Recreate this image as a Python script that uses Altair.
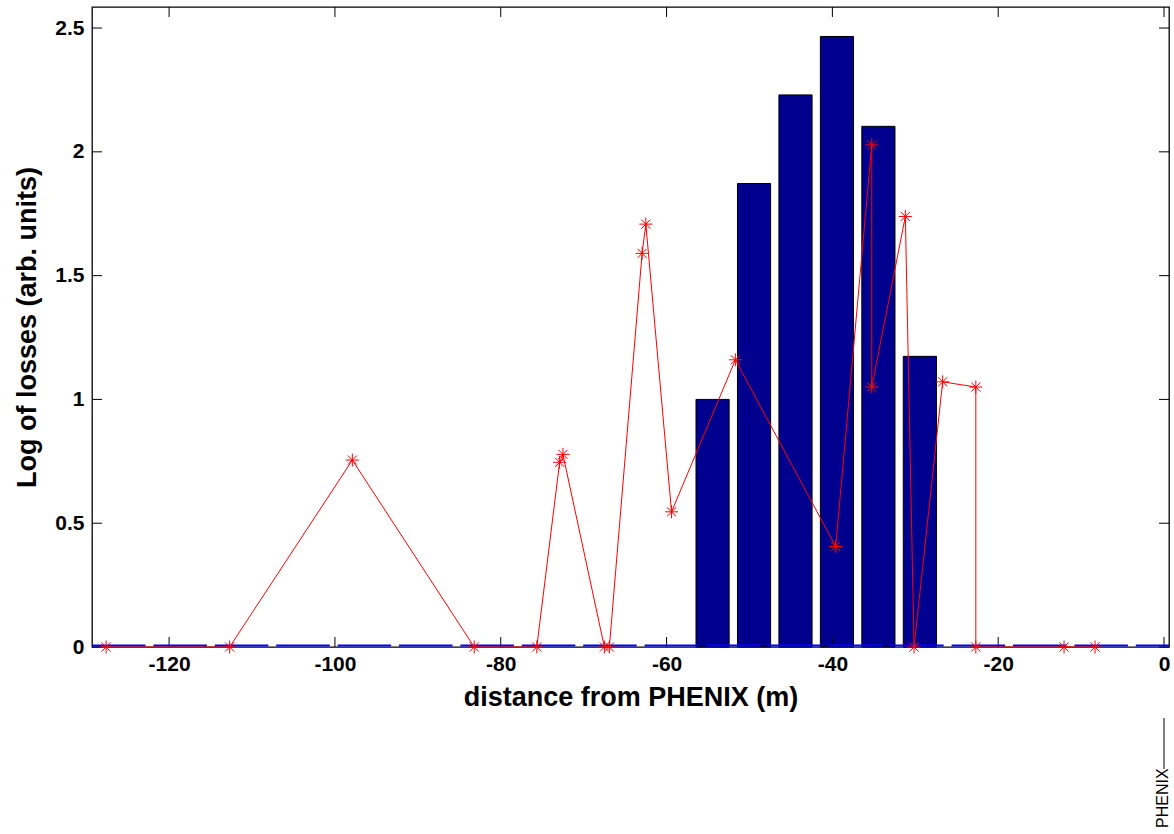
import altair as alt
import pandas as pd

# ---- data ----
bar_centers = [-54.45, -49.45, -44.45, -39.45, -34.45, -29.45]
bar_values = [1.0, 1.872, 2.23, 2.466, 2.103, 1.174]

loss_x = [-127.6, -112.7, -97.9, -83.2, -75.65, -72.9, -72.5, -67.5, -66.9,
          -62.95, -62.5, -59.4, -51.7, -39.6, -35.25, -35.25, -31.2, -30.15,
          -26.7, -22.7, -22.7, -12.06, -8.32]
loss_y = [0, 0, 0.755, 0, 0, 0.746, 0.778, 0, 0,
          1.59, 1.708, 0.546, 1.16, 0.406, 2.028, 1.05, 1.739, 0,
          1.071, 1.05, 0, 0, 0]

x_ticks = [-120, -100, -80, -60, -40, -20, 0]
y_ticks = [0, 0.5, 1, 1.5, 2, 2.5]

W, H = 1077, 640
FONT = "Liberation Sans"

xs = alt.Scale(domain=[-129.3, 0.6], nice=False, zero=False)
ys = alt.Scale(domain=[0, 2.585], nice=False, zero=False)

x_axis = alt.Axis(values=x_ticks, labelExpr="toString(datum.value)", title="distance from PHENIX (m)",
                  titleFont=FONT, titleFontSize=27, titleFontWeight="bold", titleColor="black",
                  titleBaseline="middle", titleY=50,
                  labelFont=FONT, labelFontSize=21, labelFontWeight="bold", labelColor="black",
                  labelPadding=6, labelFlush=False, labelOverlap=False,
                  ticks=False, domain=False, grid=False)
y_axis = alt.Axis(values=y_ticks, labelExpr="toString(datum.value)", title="Log of losses (arb. units)",
                  titleFont=FONT, titleFontSize=27, titleFontWeight="bold", titleColor="black",
                  titleBaseline="middle", titleX=-65, titleY=320, titleAngle=270,
                  labelFont=FONT, labelFontSize=21, labelFontWeight="bold", labelColor="black",
                  labelPadding=8, labelFlush=False, labelOverlap=False,
                  ticks=False, domain=False, grid=False)

bars_df = pd.DataFrame({"c": bar_centers, "v": bar_values})
bars = alt.Chart(bars_df).transform_calculate(
    xa="datum.c - 2", xb="datum.c + 2"
).mark_rect(color="#00008F", stroke="black", strokeWidth=1).encode(
    x=alt.X("xa:Q", scale=xs, axis=x_axis),
    x2="xb:Q",
    y=alt.Y("v:Q", scale=ys, axis=y_axis),
    y2=alt.datum(0),
)

base_line = alt.Chart(pd.DataFrame({"z": [0]})).mark_rule(
    color="#0000FF", strokeWidth=2, strokeDash=[53.5, 7.9], yOffset=-1.5
).encode(
    y=alt.Y("z:Q", scale=ys, axis=y_axis),
    x=alt.value(0), x2=alt.value(W),
)

loss_df = pd.DataFrame({"i": list(range(len(loss_x))), "x": loss_x, "y": loss_y})
loss_line = alt.Chart(loss_df).mark_line(color="#FF0000", strokeWidth=1).encode(
    x=alt.X("x:Q", scale=xs, axis=x_axis),
    y=alt.Y("y:Q", scale=ys, axis=y_axis),
    order="i:Q",
)
ASTER = "M-1,0L1,0M0,-1L0,1M-0.7,-0.7L0.7,0.7M-0.7,0.7L0.7,-0.7"
loss_pts = alt.Chart(loss_df).mark_point(
    shape=ASTER, filled=False, stroke="#FF0000", strokeWidth=1, size=170, opacity=1
).encode(
    x=alt.X("x:Q", scale=xs, axis=x_axis),
    y=alt.Y("y:Q", scale=ys, axis=y_axis),
)

xt_df = pd.DataFrame({"t": x_ticks})
yt_df = pd.DataFrame({"t": y_ticks})
xt_bot = alt.Chart(xt_df).mark_rule(color="black", strokeWidth=1).encode(
    x=alt.X("t:Q", scale=xs, axis=x_axis), y=alt.value(H), y2=alt.value(H - 10))
xt_top = alt.Chart(xt_df).mark_rule(color="black", strokeWidth=1).encode(
    x=alt.X("t:Q", scale=xs, axis=x_axis), y=alt.value(0), y2=alt.value(10))
yt_left = alt.Chart(yt_df).mark_rule(color="black", strokeWidth=1).encode(
    y=alt.Y("t:Q", scale=ys, axis=y_axis), x=alt.value(0), x2=alt.value(10))
yt_right = alt.Chart(yt_df).mark_rule(color="black", strokeWidth=1).encode(
    y=alt.Y("t:Q", scale=ys, axis=y_axis), x=alt.value(W), x2=alt.value(W - 10))

note = alt.Chart(pd.DataFrame({"label": ["PHENIX"]})).mark_text(
    angle=270, align="left", baseline="middle", font=FONT, fontSize=16, color="black"
).encode(x=alt.value(1071), y=alt.value(821), text="label:N")
note_line = alt.Chart(pd.DataFrame({"k": [0]})).mark_rule(color="black", strokeWidth=1).encode(
    x=alt.value(1072), y=alt.value(711), y2=alt.value(762))

chart = alt.layer(
    bars, xt_bot, xt_top, yt_left, yt_right, base_line, loss_line, loss_pts, note, note_line
).properties(
    width=W, height=H,
    autosize=alt.AutoSizeParams(type="none"),
    padding={"left": 92, "top": 7, "right": 5, "bottom": 187},
    background="white",
).configure_view(stroke="black", strokeWidth=1.3)

chart.save("out.html", embed_options={"renderer": "svg", "actions": False})
